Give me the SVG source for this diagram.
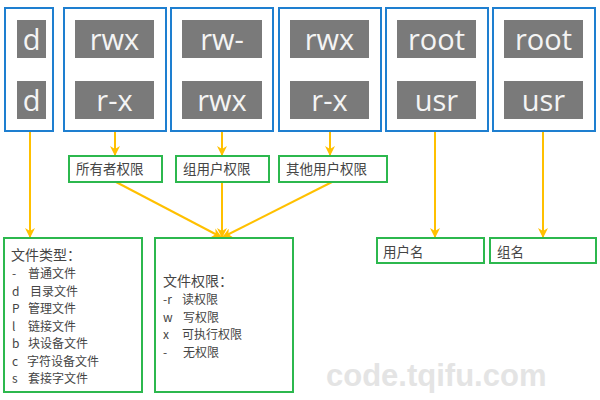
<svg xmlns="http://www.w3.org/2000/svg" width="600" height="400" viewBox="0 0 600 400">
<defs>
<style>
.blue{fill:#fff;stroke:#1e7fd0;stroke-width:2}
.gray{fill:#7a7a7a}
.big{font-family:"Open Sans","Noto Sans",sans-serif;font-size:29px;fill:#f4f4f4;text-anchor:middle}
.green{fill:#fff;stroke:#2cb84e;stroke-width:2}
.lbl{font-family:"Noto Sans CJK SC","Noto Sans",sans-serif;font-size:13.5px;fill:#454545}
.sm{font-family:"Noto Sans CJK SC","Noto Sans",sans-serif;font-size:12px;fill:#454545}
.conn{stroke:#ffc000;stroke-width:2;fill:none;marker-end:url(#ah)}
.wm{font-family:"Liberation Sans",Arial,sans-serif;font-weight:bold;font-size:31px;fill:#e4e4e4}
</style>
<marker id="ah" viewBox="0 0 10 10" refX="9" refY="5" markerWidth="5" markerHeight="5" orient="auto" markerUnits="strokeWidth">
<path d="M0,0 L10,5 L0,10 L3,5 z" fill="#ffc000"/>
</marker>
</defs>
<rect width="600" height="400" fill="#fff"/>
<text class="wm" x="326" y="386">code.tqifu.com</text>
<g id="connectors">
<line class="conn" x1="30" y1="131" x2="30" y2="237"/>
<line class="conn" x1="115" y1="131" x2="115" y2="155"/>
<line class="conn" x1="222" y1="131" x2="222" y2="155"/>
<line class="conn" x1="330" y1="131" x2="330" y2="155"/>
<line class="conn" x1="435" y1="131" x2="435" y2="237"/>
<line class="conn" x1="543" y1="131" x2="543" y2="237"/>
<line class="conn" x1="116" y1="182" x2="221" y2="237"/>
<line class="conn" x1="222" y1="182" x2="222" y2="237"/>
<line class="conn" x1="332" y1="182" x2="223" y2="237"/>
</g>
<g id="n-type">
<rect class="blue" x="5" y="8" width="48" height="123"/>
<rect class="gray" x="17" y="20" width="29" height="38"/>
<rect class="gray" x="17" y="81" width="29" height="38"/>
<text class="big" x="31.5" y="50">d</text>
<text class="big" x="31.5" y="111">d</text>
</g>
<g id="n-owner">
<rect class="blue" x="64" y="8" width="102" height="123"/>
<rect class="gray" x="75" y="20" width="79" height="38"/>
<rect class="gray" x="75" y="81" width="79" height="38"/>
<text class="big" x="114.5" y="50">rwx</text>
<text class="big" x="114.5" y="111">r-x</text>
</g>
<g id="n-group">
<rect class="blue" x="171" y="8" width="102" height="123"/>
<rect class="gray" x="182" y="20" width="80" height="38"/>
<rect class="gray" x="182" y="81" width="80" height="38"/>
<text class="big" x="222" y="50">rw-</text>
<text class="big" x="222" y="111">rwx</text>
</g>
<g id="n-other">
<rect class="blue" x="279" y="8" width="102" height="123"/>
<rect class="gray" x="290" y="20" width="79" height="38"/>
<rect class="gray" x="290" y="81" width="79" height="38"/>
<text class="big" x="329.5" y="50">rwx</text>
<text class="big" x="329.5" y="111">r-x</text>
</g>
<g id="n-user">
<rect class="blue" x="386" y="8" width="102" height="123"/>
<rect class="gray" x="397" y="20" width="79" height="38"/>
<rect class="gray" x="397" y="81" width="79" height="38"/>
<text class="big" x="436.5" y="50">root</text>
<text class="big" x="436.5" y="111">usr</text>
</g>
<g id="n-grp">
<rect class="blue" x="493" y="8" width="102" height="123"/>
<rect class="gray" x="504" y="20" width="79" height="38"/>
<rect class="gray" x="504" y="81" width="79" height="38"/>
<text class="big" x="543.5" y="50">root</text>
<text class="big" x="543.5" y="111">usr</text>
</g>
<g id="l-owner">
<rect class="green" x="69" y="156" width="93" height="26"/>
<text class="lbl" x="76" y="174">所有者权限</text>
</g>
<g id="l-group">
<rect class="green" x="176" y="156" width="93" height="26"/>
<text class="lbl" x="183" y="174">组用户权限</text>
</g>
<g id="l-other">
<rect class="green" x="279" y="156" width="108" height="26"/>
<text class="lbl" x="286" y="174">其他用户权限</text>
</g>
<g id="l-username">
<rect class="green" x="377" y="238" width="107" height="25"/>
<text class="lbl" x="383" y="257">用户名</text>
</g>
<g id="l-groupname">
<rect class="green" x="490" y="238" width="106" height="25"/>
<text class="lbl" x="497" y="257">组名</text>
</g>
<g id="filetype">
<rect class="green" x="4" y="238" width="138" height="154"/>
<text class="lbl" x="11" y="260" style="font-size:14px">文件类型：</text>
<text class="sm" x="12" y="278">-</text><text class="sm" x="28" y="278">普通文件</text>
<text class="sm" x="12" y="295.5">d</text><text class="sm" x="30" y="295.5">目录文件</text>
<text class="sm" x="12" y="313">P</text><text class="sm" x="28" y="313">管理文件</text>
<text class="sm" x="12" y="330.5">l</text><text class="sm" x="28" y="330.5">链接文件</text>
<text class="sm" x="12" y="348">b</text><text class="sm" x="28" y="348">块设备文件</text>
<text class="sm" x="12" y="365.5">c</text><text class="sm" x="27" y="365.5">字符设备文件</text>
<text class="sm" x="12" y="383">s</text><text class="sm" x="28" y="383">套接字文件</text>
</g>
<g id="fileperm">
<rect class="green" x="155" y="238" width="138" height="154"/>
<text class="lbl" x="163" y="286" style="font-size:14px">文件权限：</text>
<text class="sm" x="163" y="304">-r</text><text class="sm" x="182" y="304">读权限</text>
<text class="sm" x="163" y="321.5">w</text><text class="sm" x="183" y="321.5">写权限</text>
<text class="sm" x="163" y="339">x</text><text class="sm" x="182" y="339">可执行权限</text>
<text class="sm" x="163" y="356.5">-</text><text class="sm" x="183" y="356.5">无权限</text>
</g>
</svg>
